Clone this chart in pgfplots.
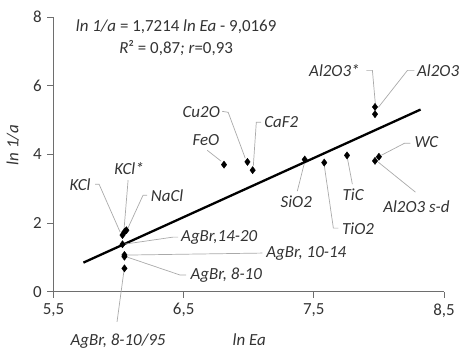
\documentclass[border=0pt]{standalone}
\usepackage{pgfplots}
\pgfplotsset{compat=1.18}
\usepackage{fontspec}
\setmainfont{Carlito}
\definecolor{leader}{RGB}{170,170,170}
\definecolor{axisgray}{RGB}{110,110,110}
\begin{document}
\fontsize{17}{20}\selectfont
\begin{tikzpicture}
\path[use as bounding box] (-53.5bp,-59.3bp) rectangle (408.5bp,291.7bp);
\begin{axis}[
  at={(0,0)}, anchor=south west,
  scale only axis, width=390.5bp, height=274.7bp,
  xmin=5.5, xmax=8.5, ymin=0, ymax=8,
  axis lines*=left,
  clip=false,
  xtick={5.5,6.5,7.5,8.5}, ytick={0,2,4,6,8},
  tick align=outside, major tick length=6bp,
  tick style={axisgray, line width=0.8bp},
  axis line style={axisgray, line width=0.8bp},
  /pgf/number format/assume math mode=true,
  ticklabel style={font=\fontsize{17}{20}\selectfont, text=black!80},
  xticklabel style={/pgf/number format/.cd, fixed, fixed zerofill, precision=1, use comma},
  yticklabel style={/pgf/number format/.cd, fixed, precision=0},
]
% trend line
\addplot[black, line width=2.3bp] coordinates {(5.73,0.847) (8.32,5.305)};
% leader lines
\begin{scope}[leader, line width=0.7bp]
\draw (axis cs:7.904,6.445) -- (axis cs:7.95,6.445) -- (axis cs:7.973,5.45);
\draw (axis cs:8.273,6.445) -- (axis cs:8.219,6.445) -- (axis cs:7.996,5.37);
\draw (axis cs:6.796,5.253) -- (axis cs:6.842,5.224) -- (axis cs:6.973,3.887);
\draw (axis cs:7.096,4.933) -- (axis cs:7.058,4.933) -- (axis cs:7.035,3.654);
\draw (axis cs:6.681,4.119) -- (axis cs:6.788,3.80);
\draw (axis cs:6.073,3.247) -- (axis cs:6.042,1.823);
\draw (axis cs:5.819,3.131) -- (axis cs:5.85,3.131) -- (axis cs:6.012,1.735);
\draw (axis cs:6.219,2.811) -- (axis cs:6.188,2.811) -- (axis cs:6.065,1.794);
\draw (axis cs:6.458,1.59) -- (axis cs:6.419,1.59) -- (axis cs:6.05,1.387);
\draw (axis cs:7.104,1.125) -- (axis cs:6.065,1.067);
\draw (axis cs:6.519,0.485) -- (axis cs:6.473,0.485) -- (axis cs:6.065,1.009);
\draw (axis cs:5.988,-0.881) -- (axis cs:6.042,0.631);
\draw (axis cs:7.373,2.927) -- (axis cs:7.427,3.741);
\draw (axis cs:7.688,1.852) -- (axis cs:7.65,1.852) -- (axis cs:7.58,3.683);
\draw (axis cs:7.796,3.131) -- (axis cs:7.758,3.887);
\draw (axis cs:8.281,2.898) -- (axis cs:7.996,3.77);
\draw (axis cs:8.242,4.323) -- (axis cs:8.196,4.323) -- (axis cs:8.019,3.974);
\end{scope}
% data points
\addplot[only marks, mark=diamond*, mark size=3.6bp, black] coordinates {
 (6.03,1.65) (6.045,1.74) (6.06,1.79)
 (6.03,1.38) (6.045,1.07) (6.045,1.02) (6.045,0.68)
 (6.81,3.70) (6.99,3.78) (7.03,3.54)
 (7.43,3.85) (7.58,3.76) (7.755,3.97)
 (8.00,3.93) (7.97,3.81)
 (7.97,5.38) (7.97,5.17)
};
% labels
\begin{scope}[every node/.style={font=\fontsize{17}{20}\selectfont\itshape, text=black!80, inner sep=0pt}]
\node at (axis cs:7.658,6.445) {Al2O3*};
\node at (axis cs:8.455,6.445) {Al2O3};
\node at (axis cs:6.635,5.224) {Cu2O};
\node at (axis cs:7.25,4.933) {CaF2};
\node at (axis cs:6.671,4.41) {FeO};
\node at (axis cs:6.081,3.596) {KCl*};
\node at (axis cs:5.704,3.122) {KCl};
\node at (axis cs:6.373,2.811) {NaCl};
\node at (axis cs:6.773,1.59) {AgBr,14-20};
\node at (axis cs:7.442,1.116) {AgBr, 10-14};
\node at (axis cs:6.827,0.485) {AgBr, 8-10};
\node at (axis cs:5.996,-1.453) {AgBr, 8-10/95};
\node at (axis cs:7.365,2.617) {SiO2};
\node at (axis cs:7.84,1.843) {TiO2};
\node at (axis cs:7.802,2.811) {TiC};
\node at (axis cs:8.288,2.471) {Al2O3 s-d};
\node at (axis cs:8.365,4.352) {WC};
\node at (axis cs:7.004,-1.404) {ln Ea};
\node[rotate=90] at (axis cs:5.188,4.265) {ln 1/a};
\end{scope}
\begin{scope}[every node/.style={font=\fontsize{17}{20}\selectfont, text=black!80, inner sep=0pt}]
\node at (axis cs:6.442,7.724) {\textit{ln 1/a} = 1,7214 \textit{ln Ea} - 9,0169};
\node at (axis cs:6.442,7.09) {\textit{R}² = 0,87\textit{; r}=0,93};
\end{scope}
\end{axis}
\end{tikzpicture}
\end{document}
